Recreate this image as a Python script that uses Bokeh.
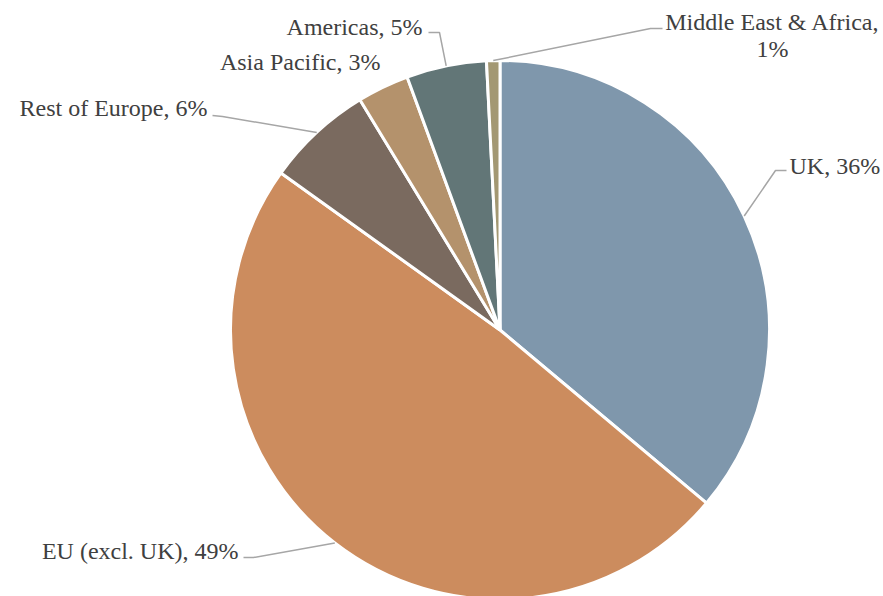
import math
from bokeh.plotting import figure
from bokeh.models import Range1d
from bokeh.core.properties import value
from bokeh.embed import file_html
from bokeh.resources import INLINE

# ---- data ----
categories = ["UK", "EU (excl. UK)", "Rest of Europe", "Asia Pacific", "Americas", "Middle East & Africa"]
shares = [36.1, 48.8, 6.4, 3.1, 4.8, 0.8]
colors = ["#7F97AC", "#CC8C5E", "#7A6A5F", "#B4926C", "#627677", "#A39873"]

# ---- layout (pixels) ----
W, H = 883, 596
CX, CY, R = 499.5, 329.5, 269.5
FONT = value("Liberation Serif")
FSIZE = "24px"

def to_data(px, py):
    return ((px - CX) / R, (CY - py) / R)

# label anchors: (x_px, y_px, align) ; elbow points for leader lines
label_layout = [
    (789, 165, "left", [(775, 170), (786, 170)]),
    (238, 550, "right", [(253, 557), (243, 557)]),
    (207, 107, "right", [(222, 116), (212, 115)]),
    (380, 61, "right", None),
    (422, 26, "right", [(439, 32), (428, 32)]),
    (772, 21, "center", [(650, 28), (662, 28)]),
]

p = figure(width=W, height=H, output_backend="svg", toolbar_location=None,
           x_range=Range1d(-CX / R, (W - CX) / R), y_range=Range1d((CY - H) / R, CY / R),
           min_border=0, min_border_left=0, min_border_right=0, min_border_top=0, min_border_bottom=0)
p.axis.visible = False
p.grid.visible = False
p.outline_line_color = None
p.background_fill_color = "white"
p.border_fill_color = "white"

total = sum(shares)
cum = 0.0
starts, ends, mids = [], [], []
for s in shares:
    a0 = math.pi / 2 - 2 * math.pi * cum / total
    cum += s
    a1 = math.pi / 2 - 2 * math.pi * cum / total
    starts.append(a0)
    ends.append(a1)
    mids.append((a0 + a1) / 2)

p.wedge(x=[0] * len(shares), y=[0] * len(shares), radius=1.0, start_angle=starts, end_angle=ends,
        direction="clock", fill_color=colors, line_color="white", line_width=3)

xs, ys = [], []
for m, lay in zip(mids, label_layout):
    elbows = lay[3]
    if not elbows:
        continue
    lx = [math.cos(m)]
    ly = [math.sin(m)]
    for (ex, ey) in elbows:
        dx, dy = to_data(ex, ey)
        lx.append(dx)
        ly.append(dy)
    xs.append(lx)
    ys.append(ly)
p.multi_line(xs=xs, ys=ys, line_color="#A6A6A6", line_width=1.5)

for cat, s, lay in zip(categories, shares, label_layout):
    txt = f"{cat}, {round(s / total * 100)}%"
    lx, ly, align, _ = lay
    if align == "center":
        lines = [f"{cat},", f"{round(s / total * 100)}%"]
        for i, t in enumerate(lines):
            dx, dy = to_data(lx, ly + i * 27)
            p.text(x=[dx], y=[dy], text=[t], text_align="center", text_baseline="middle",
                   text_font=FONT, text_font_size=FSIZE, text_color="#404040")
    else:
        dx, dy = to_data(lx, ly)
        p.text(x=[dx], y=[dy], text=[txt], text_align=align, text_baseline="middle",
               text_font=FONT, text_font_size=FSIZE, text_color="#404040")

open("out.html", "w").write(file_html(p, INLINE))
